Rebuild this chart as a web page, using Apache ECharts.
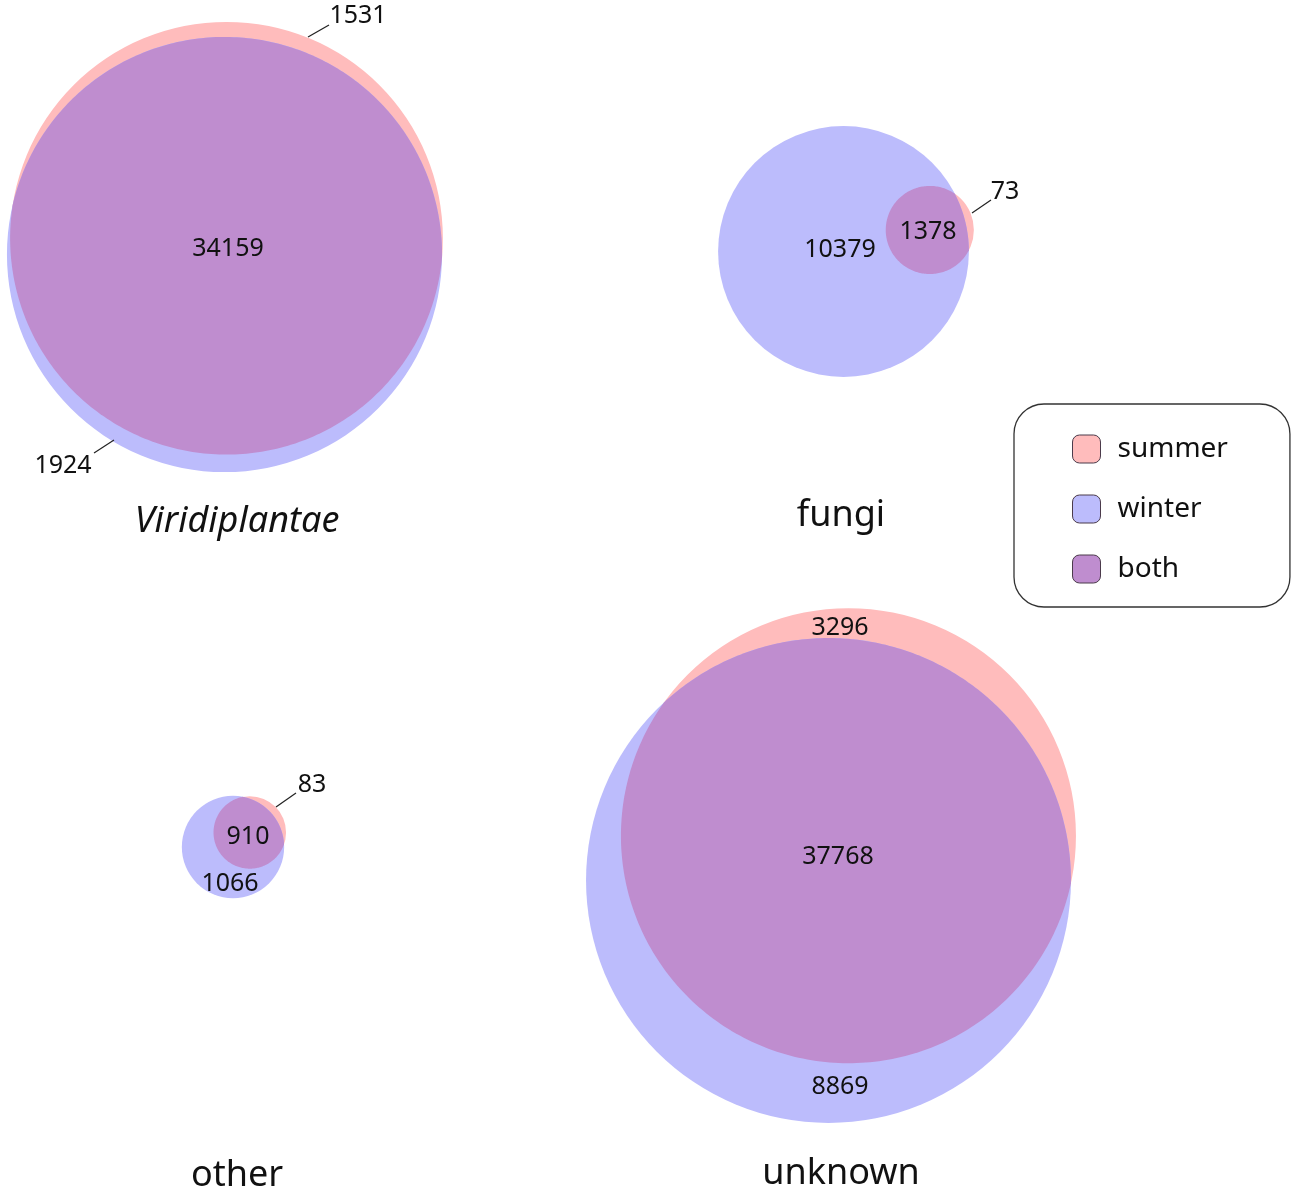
<!DOCTYPE html>
<html>
<head>
<meta charset="utf-8">
<script src="https://cdn.jsdelivr.net/npm/echarts@6/dist/echarts.min.js"></script>
<style>html,body{margin:0;padding:0;background:#fff}#container{width:1299px;height:1191px}</style>
</head>
<body>
<div id="container"></div>
<script>
var groups = ['Viridiplantae', 'fungi', 'other', 'unknown'];
var summerOnly = [1531, 73, 83, 3296];
var winterOnly = [1924, 10379, 1066, 8869];
var both = [34159, 1378, 910, 37768];
var seasons = ['summer', 'winter', 'both'];

// layout, in pixels: winter circle centre, direction of the summer circle, px per sqrt(count/pi)
var winterCentre = [[224.5, 254.5], [843.5, 251.5], [233, 847], [828.5, 880.5]];
var summerAngle = [-83, -14, -41, -66];
var pxScale = [2.03, 2.05, 2.04, 1.99];
// where the numbers and names go
var bothPos = [[228, 249], [928, 232], [248, 837], [838, 857]];
var summerPos = [[358, 16], [1005, 192], [312, 785], [840, 628]];
var winterPos = [[63, 466], [840, 250], [230, 884], [840, 1087]];
var summerLeader = [[[308, 37], [329, 25]], [[972, 213], [991, 200]], [[276, 807], [296, 793]], null];
var winterLeader = [[[114, 440], [94, 453]], null, null, null];
var titlePos = [[237, 522], [841, 516], [237, 1176], [841, 1174]];

var colors = {summer: '#ffbcbc', winter: '#bcbcfc', both: '#bf8dcf'};
var FONT = '"Noto Sans", "Open Sans", sans-serif';

function lensArea(r1, r2, d) {
    if (d >= r1 + r2) return 0;
    if (d <= Math.abs(r1 - r2)) return Math.PI * Math.pow(Math.min(r1, r2), 2);
    var a1 = r1 * r1 * Math.acos((d * d + r1 * r1 - r2 * r2) / (2 * d * r1));
    var a2 = r2 * r2 * Math.acos((d * d + r2 * r2 - r1 * r1) / (2 * d * r2));
    var t = 0.5 * Math.sqrt((-d + r1 + r2) * (d + r1 - r2) * (d - r1 + r2) * (d + r1 + r2));
    return a1 + a2 - t;
}
// distance between centres so the overlap area matches the shared count
function solveDist(r1, r2, target) {
    var lo = Math.abs(r1 - r2), hi = r1 + r2;
    for (var i = 0; i < 60; i++) {
        var mid = (lo + hi) / 2;
        if (lensArea(r1, r2, mid) > target) lo = mid; else hi = mid;
    }
    return (lo + hi) / 2;
}

var circles = groups.map(function (g, i) {
    var s = pxScale[i];
    var rs = s * Math.sqrt((summerOnly[i] + both[i]) / Math.PI);
    var rw = s * Math.sqrt((winterOnly[i] + both[i]) / Math.PI);
    var d = solveDist(rs, rw, s * s * both[i]);
    var ang = summerAngle[i] * Math.PI / 180;
    var w = winterCentre[i];
    return [w[0] + d * Math.cos(ang), w[1] + d * Math.sin(ang), rs, w[0], w[1], rw, i];
});

function circleRender(k, color) {
    return function (params, api) {
        var x = api.value(k), y = api.value(k + 1);
        var c = api.coord([x, y]);
        var r = api.size([api.value(k + 2) * 2, 0], [x, y])[0] / 2;
        return {type: 'circle', shape: {cx: c[0], cy: c[1], r: r}, style: {fill: color}};
    };
}

function lensRender(params, api) {
    var ps = api.coord([api.value(0), api.value(1)]);
    var rs = api.size([api.value(2) * 2, 0], [api.value(0), api.value(1)])[0] / 2;
    var pw = api.coord([api.value(3), api.value(4)]);
    var rw = api.size([api.value(5) * 2, 0], [api.value(3), api.value(4)])[0] / 2;
    var dx = ps[0] - pw[0], dy = ps[1] - pw[1];
    var d = Math.sqrt(dx * dx + dy * dy);
    if (d <= Math.abs(rs - rw)) {
        var small = rs < rw ? [ps, rs] : [pw, rw];
        return {type: 'circle', shape: {cx: small[0][0], cy: small[0][1], r: small[1]}, style: {fill: colors.both}};
    }
    var phi = Math.atan2(dy, dx);
    var a = (d * d + rw * rw - rs * rs) / (2 * d);
    var tw = Math.acos(Math.max(-1, Math.min(1, a / rw)));
    var ts = Math.acos(Math.max(-1, Math.min(1, (d - a) / rs)));
    var pts = [], N = 180, j, t;
    for (j = 0; j <= N; j++) {
        t = phi - tw + 2 * tw * j / N;
        pts.push([pw[0] + rw * Math.cos(t), pw[1] + rw * Math.sin(t)]);
    }
    for (j = 0; j <= N; j++) {
        t = phi + Math.PI - ts + 2 * ts * j / N;
        pts.push([ps[0] + rs * Math.cos(t), ps[1] + rs * Math.sin(t)]);
    }
    return {type: 'polygon', shape: {points: pts}, style: {fill: colors.both}};
}

function txt(api, p, text, size, italic) {
    var c = api.coord(p);
    return {
        type: 'text', x: c[0], y: c[1],
        style: {
            text: text, fill: '#111', fontSize: size, fontFamily: FONT,
            fontStyle: italic ? 'italic' : 'normal',
            align: 'center', verticalAlign: 'middle',
            textAlign: 'center', textVerticalAlign: 'middle'
        }
    };
}
function leader(api, seg) {
    var a = api.coord(seg[0]), b = api.coord(seg[1]);
    return {type: 'line', shape: {x1: a[0], y1: a[1], x2: b[0], y2: b[1]}, style: {stroke: '#222', lineWidth: 1.2}};
}

function labelRender(params, api) {
    var i = api.value(2);
    var kids = [
        txt(api, bothPos[i], String(both[i]), 25),
        txt(api, summerPos[i], String(summerOnly[i]), 25),
        txt(api, winterPos[i], String(winterOnly[i]), 25),
        txt(api, titlePos[i], groups[i], 36, i === 0)
    ];
    if (summerLeader[i]) kids.push(leader(api, summerLeader[i]));
    if (winterLeader[i]) kids.push(leader(api, winterLeader[i]));
    return {type: 'group', children: kids};
}

var dom = document.getElementById('container');
var myChart = echarts.init(dom, null, {renderer: 'canvas'});

var option = {
    backgroundColor: '#fff',
    animation: false,
    grid: {left: 0, right: 0, top: 0, bottom: 0},
    xAxis: {type: 'value', min: 0, max: 1299, show: false},
    yAxis: {type: 'value', min: 0, max: 1191, inverse: true, show: false},
    legend: {
        data: seasons.map(function (s) { return {name: s, icon: 'roundRect'}; }),
        orient: 'vertical', left: 1014, top: 404,
        itemWidth: 28, itemHeight: 28, itemGap: 30,
        padding: [30, 62, 23, 58],
        borderColor: '#333', borderWidth: 1.3, borderRadius: 30,
        itemStyle: {borderColor: '#4b3b4b', borderWidth: 1},
        textStyle: {fontFamily: FONT, fontSize: 28, color: '#111', lineHeight: 28, padding: [2, 0, 0, 12]},
        selectedMode: false
    },
    series: [
        {name: 'summer', type: 'custom', silent: true, clip: false, itemStyle: {color: colors.summer},
            encode: {x: [0, 3], y: [1, 4]}, data: circles, renderItem: circleRender(0, colors.summer)},
        {name: 'winter', type: 'custom', silent: true, clip: false, itemStyle: {color: colors.winter},
            encode: {x: [0, 3], y: [1, 4]}, data: circles, renderItem: circleRender(3, colors.winter)},
        {name: 'both', type: 'custom', silent: true, clip: false, itemStyle: {color: colors.both},
            encode: {x: [0, 3], y: [1, 4]}, data: circles, renderItem: lensRender},
        {name: 'labels', type: 'custom', silent: true, clip: false,
            encode: {x: 0, y: 1},
            data: titlePos.map(function (p, i) { return [p[0], p[1], i]; }),
            renderItem: labelRender}
    ]
};
myChart.setOption(option);
window.addEventListener('resize', function () { myChart.resize(); });
</script>
</body>
</html>
